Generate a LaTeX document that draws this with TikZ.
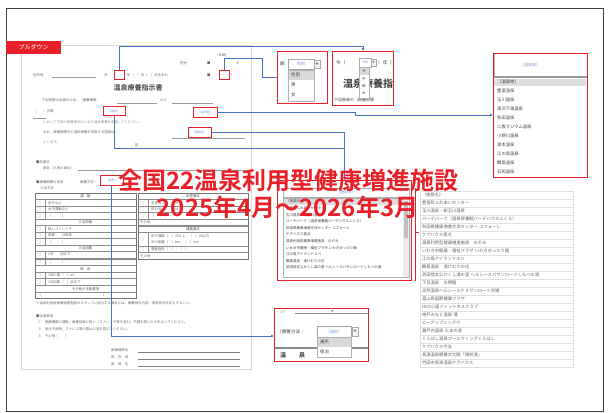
\documentclass[tikz,border=0pt]{standalone}
\usepackage{fontspec}
\setmainfont{Noto Sans CJK JP}[BoldFont={Noto Sans CJK JP Bold}]
\usetikzlibrary{arrows.meta}
\definecolor{zred}{RGB}{232,32,40}
\definecolor{zblue}{RGB}{72,112,196}
\definecolor{zpick}{RGB}{120,150,205}
\tikzstyle{red_box} = [draw=zred, line width=0.8pt, inner sep=0pt, fill=white, font=\fontsize{3}{3}\selectfont, text=zpick]
\tikzstyle{panel} = [draw=zred, line width=0.9pt, fill=white, inner sep=0pt]
\tikzstyle{link} = [zblue, line width=0.7pt, -{Latex[length=3pt,width=3pt]}]
\tikzstyle{link_plain} = [zblue, line width=0.7pt]
\tikzstyle{form_text} = [font=\fontsize{3.4}{4}\selectfont, text=black!60, inner sep=0pt, anchor=west]
\tikzstyle{pick_text} = [font=\fontsize{4.6}{5}\selectfont, text=black!75, inner sep=0pt, anchor=west]
\tikzstyle{head_row} = [font=\fontsize{3.4}{4}\selectfont, text=black!70, inner sep=0pt]
\tikzstyle{table_line} = [draw=black!45, line width=0.35pt]
\tikzstyle{rule_line} = [draw=black!40, line width=0.5pt]
\tikzstyle{list_row} = [draw=black!12, minimum width=153pt, minimum height=8pt, inner sep=0pt, text width=149pt, align=left, font=\fontsize{4.3}{4.3}\selectfont, text=black!62]
\tikzstyle{title_text} = [font=\fontsize{24}{24}\selectfont\bfseries, text=zred, inner sep=0pt]
\def\facilities{（施設名）, 豊富町ふれあいセンター, 玉川温泉・新玉川温泉, パーデパーク（温泉保養館パーデハウスふくら）, 秋田県健康増進交流センター ユフォーレ, ケアハウス喜点, 温泉利用型健康増進施設　のぞみ, いわき市健康・福祉プラザ いわきゆったり館, 江の島アイランドスパ, 鶴島温泉　湯けむりの庄, 武田信玄公かくし湯の里 ヘルシースパサンロードしもべの湯, 下呂温泉　水明館, 天然温泉ヘルシーＳＰＡサンロード浜場, 富山県国際健康プラザ, HOS小国フィットネスクラブ, 神戸みなと温泉 蓮, ビーアップシングウ, 瀬戸内温泉 たまの湯, くらはし温泉プールウィングくらはし, ケアハウス今治, 長湯温泉療養文化館「御前湯」, 竹田市長湯温泉ケアハウス}
\begin{document}
\begin{tikzpicture}[x=1pt,y=-1pt]
\useasboundingbox (0,0) rectangle (609,412);
\draw[black!75, line width=0.8pt] (6,8) rectangle (603,411);

% the form sheet
\node[draw=black!15, line width=0.6pt, minimum width=230pt, minimum height=324pt, inner sep=0pt] (page) at (136,207) {};
\node[fill=zred, minimum width=55pt, minimum height=13pt, inner sep=0pt, text=white, font=\fontsize{6}{6}\selectfont] (tag) at (33.5,47.5) {プルダウン};

\node[form_text] at (180,63) {性別};
\node[form_text] at (215,55) {（年齢）};
\node[form_text] at (207,63) {■};
\node[form_text] at (236,63) {才};
\node[form_text] at (33,75) {住所地};
\draw[rule_line] (52,77.5) -- (96,77.5);
\node[form_text] at (104,75) {令};
\node[red_box, minimum width=10pt, minimum height=9pt] (eraBox) at (119,74.5) {};
\node[form_text] at (127,75) {年（　）月（　）日生まれ};
\node[form_text] at (207,75) {■};
\node[red_box, minimum width=10pt, minimum height=9pt] (genderBox) at (224,74.5) {};
\node[form_text] at (231,75) {）};
\node[font=\fontsize{7}{7}\selectfont\bfseries, text=black!75, inner sep=0pt] (formTitle) at (138,88) {温泉療養指示書};

\node[form_text] at (42,100) {下記疾患の治療のため、（療養期間};
\draw[rule_line] (117,103.5) -- (157,103.5);
\node[form_text] at (160,100) {から};
\draw[rule_line] (172,103.5) -- (213,103.5);
\node[form_text] at (33,111) {（　　）日間};
\draw[rule_line] (33,118) -- (46,118);
\node[red_box, minimum width=22pt, minimum height=9pt] (kindBox) at (114,111) {（選択）};
\node[red_box, minimum width=24pt, minimum height=10pt] (prefBox) at (205,112) {（温泉地）};
\node[form_text, text=black!45] at (43,122) {において下記の療養指示のとおり温泉療養を実施してください。};
\node[form_text] at (43,132) {なお、療養期間中の温泉療養を実施する施設は、};
\node[red_box, minimum width=23pt, minimum height=10pt] (facBox) at (199.5,132) {（施設名）};
\draw[rule_line] (172,138) -- (245,138);
\node[form_text, text=black!45] at (43,142) {とします。};
\node[form_text] at (135,145) {記};

\node[form_text] at (36,162) {■診察日};
\node[form_text] at (43,168) {病名（入院の場合）};
\draw[rule_line] (78,170.5) -- (248,170.5);
\node[form_text] at (36,182) {■療養期間の目安};
\node[form_text] at (80,182) {療養方法：};
\node[red_box, minimum width=23pt, minimum height=10pt] (methodBox) at (111.5,180) {（選択）};
\node[form_text] at (40,188) {入浴方法};

% left table
\foreach \y/\lab in {193/運　動, 219/入浴前後, 245/入浴回数, 265.5/飲　泉, 285.5/その他の注意事項}{
  \draw[table_line] (35,\y) rectangle (136,\y+6.5);
  \node[head_row] at (85.5,\y+3.25) {\lab};
}
\foreach \y/\lab in {199.5/歩行など, 206/水中運動など, 212.5/（　　　）, 225.5/軽いストレッチ, 232/安静　　分程度, 238.5/（　　　）, 251.5/1日　　回まで, 259/（　　　）, 272/1回の量（　）ml, 278.5/1日回数（　）回まで}{
  \draw[table_line] (35,\y) rectangle (136,\y+6.5);
  \draw[table_line] (45,\y) -- (45,\y+6.5);
  \node[form_text] at (37.5,\y+3.25) {□};
  \node[form_text] at (48,\y+3.25) {\lab};
}
\draw[table_line] (35,292) rectangle (136,298);
\node[form_text] at (38,295) {（　　　　　　　　　　　　　　　　　　）};
\draw[black!55, line width=0.7pt] (35,193) rectangle (136,298);

% right table
\foreach \y/\lab in {193/泉質療法, 226/運動療法}{
  \draw[table_line] (138,\y) rectangle (248,\y+6.5);
  \node[head_row] at (193,\y+3.25) {\lab};
}
\foreach \y/\lab in {199.5/全身浴（　　）分, 206/部分浴（　　）分, 212.5/（　　　）, 246/運動強度（　）｜（　）}{
  \draw[table_line] (138,\y) rectangle (248,\y+6.5);
  \draw[table_line] (148,\y) -- (148,\y+6.5);
  \node[form_text] at (140.5,\y+3.25) {□};
  \node[form_text] at (151,\y+3.25) {\lab};
}
\draw[table_line] (138,232.5) rectangle (248,246);
\draw[table_line] (148,232.5) -- (148,246);
\node[form_text] at (140.5,239) {□};
\node[form_text] at (151,236) {歩行運動（　）分以上／（　）分以内};
\node[form_text] at (151,242.5) {歩行距離（　）km／（　）km};
\foreach \y in {219, 252.5}{
  \draw[table_line] (138,\y) rectangle (248,\y+6.5);
  \node[form_text] at (140,\y+3.25) {その他};
}
\draw[black!55, line width=0.7pt] (138,193) rectangle (248,259);

\node[form_text] at (36,303) {※温泉利用型健康増進施設のスタッフに提示する場合には、療養指示内容・実施状況を記入すること。};
\node[form_text] at (36,316) {■注意事項};
\node[form_text] at (38,322) {①　医療機関の運動・療養指導に従い（ストレッチ等を含む）不調を感じたら中止してください。};
\node[form_text] at (38,329) {②　気分不良時、ストレス等の際は入浴を控えてください。};
\node[form_text] at (38,336) {③　その他（　　）};
\node[form_text] at (111,350) {医療機関名};
\node[form_text] at (111,357) {所　在　地};
\node[form_text] at (111,364) {医　師　名};
\foreach \y in {352, 359, 366}{
  \draw[black!50, line width=0.6pt] (138,\y) -- (240,\y);
}

% connectors
\coordinate (eraBend) at (363,46);
\coordinate (genderBend) at (262,58);
\coordinate (prefBend) at (355,112);
\coordinate (kindBend) at (344.5,148.5);
\draw[link] (eraBox.north) |- (eraBend) -- ++(0,5);
\draw[link] (genderBox.north) |- (genderBend) |- (290,77) -- (277,77);
\draw[link] (prefBox.east) -- (prefBend) |- (493,115);
\draw[link_plain] (kindBox.south) |- (kindBend);
\draw[link] (facBox.east) -| (344.5,180);
\draw[link] (methodBox.south) |- (274,336);

% zoomed pulldowns
\node[panel, minimum width=50pt, minimum height=52pt] (zoomGender) at (302,77) {};
\node[pick_text] at (280,64) {齢};
\draw[black!35, fill=white] (288,59) rectangle (314,69);
\node[font=\fontsize{4}{4}\selectfont, text=zpick] at (301,64) {性別};
\draw[black!35, fill=black!5] (314,60) rectangle (320,68);
\node[font=\fontsize{3}{3}\selectfont, text=black!60] at (317,64) {▼};
\draw[black!30, fill=white] (288,70) rectangle (314,101);
\fill[black!15] (288.5,70.5) rectangle (313.5,80);
\node[pick_text] at (291,75) {性別};
\node[pick_text] at (291,85) {男};
\node[pick_text] at (291,95) {女};

\node[panel, minimum width=61pt, minimum height=54pt] (zoomEra) at (362.5,78) {};
\begin{scope}
\clip (332.5,51.5) rectangle (392.5,104.5);
\node[pick_text] at (336,63) {令（};
\node[pick_text] at (378,63) {）年（};
\node[font=\fontsize{10}{10}\selectfont\bfseries, text=black!80, anchor=west, inner sep=0pt] at (343,84) {温泉療養指示書};
\node[pick_text, font=\fontsize{4}{4}\selectfont] at (334,100) {下記疾患の（療養期間};
\draw[black!35, fill=white] (359,58) rectangle (371,67);
\node[font=\fontsize{3}{3}\selectfont, text=zpick] at (365,62.5) {令和};
\draw[black!35, fill=black!5] (371,59) rectangle (376,66);
\node[font=\fontsize{2.5}{3}\selectfont, text=black!60] at (373.5,62.5) {▼};
\draw[black!30, fill=white] (359,67) rectangle (369,98);
\fill[black!15] (359.5,67.5) rectangle (368.5,75);
\foreach \ch [count=\k from 0] in {令, 平, 昭, 大}{
  \node[font=\fontsize{3.6}{4}\selectfont, text=black!75] at (364,71.5+7.3*\k) {\ch};
}
\end{scope}

\node[panel, minimum width=94pt, minimum height=124pt] (zoomPref) at (540,115) {};
\node[font=\fontsize{4}{4}\selectfont, text=zpick] at (530,65) {（温泉地）};
\draw[black!30, line width=1pt] (494.5,53.5) -- (494.5,77);
\draw[black!40, line width=1.3pt] (493.5,77) -- (586.5,77);
\fill[black!13] (494,78.5) rectangle (586,86);
\foreach \spa [count=\k from 0] in {（温泉地）, 豊富温泉, 玉川温泉, 湯沢下湯温泉, 秋田温泉, 二股ラジウム温泉, 小野川温泉, 湯本温泉, 江の島温泉, 鶴島温泉, 石和温泉}{
  \node[pick_text, font=\fontsize{4.3}{5}\selectfont] at (497,82+9*\k) {\spa};
}

\node[panel, minimum width=134pt, minimum height=100pt] (zoomFac) at (344,230) {};
\draw[black!30, fill=white] (283,188) rectangle (409,197);
\node[font=\fontsize{3.6}{4}\selectfont, text=zpick] at (346,192.5) {（施設名）};
\draw[black!30, fill=white] (283,198) rectangle (409,277);
\fill[black!8] (403,198.5) rectangle (408.5,276.5);
\fill[black!25] (403.5,201) rectangle (408,238);
\fill[black!13] (283.5,198.5) rectangle (402.5,204.8);
\foreach \name [count=\k from 0] in \facilities{
  \ifnum\k<11
    \node[form_text, font=\fontsize{3.5}{4}\selectfont, text=black!75] at (286,201.5+6.6*\k) {\name};
  \fi
}
\coordinate (bracketTop) at (415,188);
\coordinate (bracketBot) at (415,281);
\draw[zred, line width=0.7pt] (bracketTop) -- (bracketBot);
\draw[zred, line width=0.7pt] (bracketTop |- 0,232) -- ++(4,0);

\node[panel, minimum width=94pt, minimum height=53pt] (zoomMethod) at (321,334.5) {};
\node[form_text, font=\fontsize{3}{3}\selectfont] at (278,312) {（ア）};
\draw[black!45, line width=1pt] (295,313.5) -- (367.5,313.5);
\node[form_text, font=\fontsize{2.5}{3}\selectfont] at (331,312) {▼};
\draw[black!45, line width=1.2pt] (274.5,348) -- (367.5,348);
\node[pick_text] at (277,332) {（療養方法：};
\draw[black!35, fill=white] (317,326) rectangle (351,337);
\node[font=\fontsize{4}{4}\selectfont, text=zpick] at (334,331.5) {（選択）};
\draw[black!35, fill=black!5] (352,327) rectangle (358,336);
\node[font=\fontsize{3}{3}\selectfont, text=black!60] at (355,331.5) {▼};
\draw[black!30, fill=white] (317,337) rectangle (351,357);
\fill[black!15] (317.5,337.5) rectangle (350.5,347);
\node[pick_text, font=\fontsize{4.3}{5}\selectfont] at (320,342) {通所};
\node[pick_text, font=\fontsize{4.3}{5}\selectfont] at (320,352) {宿泊};
\node[font=\fontsize{6}{6}\selectfont\bfseries, text=black!80, inner sep=0pt] at (283,355) {温};
\node[font=\fontsize{6}{6}\selectfont\bfseries, text=black!80, inner sep=0pt] at (302,355) {泉};

% facility list
\foreach \name [count=\k from 0] in \facilities{
  \node[list_row] (fac\k) at (496.5,195+8*\k) {\name};
}

% headline
\node[title_text] (headline) at (288.5,180) {全国22温泉利用型健康増進施設};
\node[title_text] (period) at (287.5,207) {2025年4月～2026年3月};
\end{tikzpicture}
\end{document}
